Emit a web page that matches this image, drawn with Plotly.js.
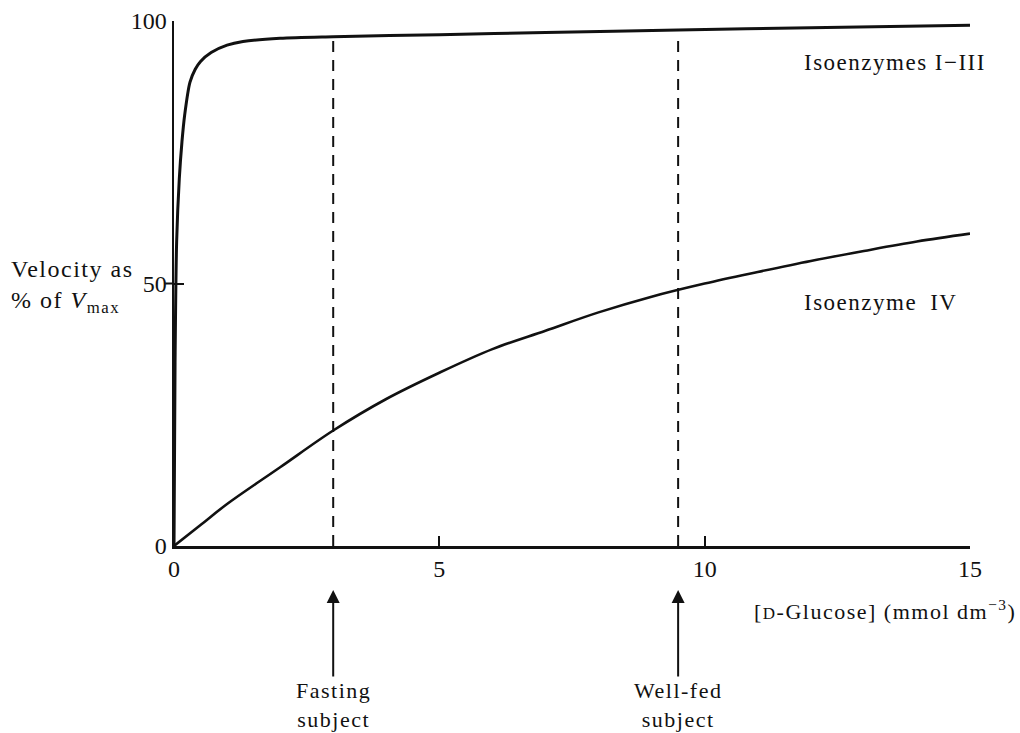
<!DOCTYPE html>
<html>
<head>
<meta charset="utf-8">
<script src="https://cdn.plot.ly/plotly-3.0.1.min.js"></script>
<style>
  html, body { margin: 0; padding: 0; background: #fff; }
  .annotation-text { letter-spacing: 1.5px; }
</style>
</head>
<body>
<div id="chart" style="width:1020px;height:733px;"></div>
<script>
// Isoenzymes I-III (low Km hexokinases)
var glucoseLowKm = [0, 0.02, 0.05, 0.1, 0.15, 0.2, 0.3, 0.4, 0.5, 0.7, 1.0, 1.3, 2, 3, 5, 7, 9.5, 12, 15];
var velocityLowKm = [0, 35, 58, 70, 77, 82, 88.3, 90.8, 92.3, 94, 95.4, 96.1, 96.7, 97, 97.4, 97.8, 98.3, 98.7, 99.2];

// Isoenzyme IV (glucokinase)
var glucoseIV = [0, 0.5, 1, 2, 3, 4, 5, 6, 7, 8, 9, 10, 11, 12, 13, 14, 15];
var velocityIV = [0, 4, 8, 15, 22, 28, 33, 37.5, 41, 44.5, 47.5, 50, 52.2, 54.3, 56.2, 58, 59.5];

// Physiological glucose concentrations
var markerGlucose = [3, 9.5];
var markerTop = [96.3, 97.4];
var markerLabels = ["Fasting<br>subject", "Well-fed<br>subject"];

// Tick labels
var xTicks = [0, 5, 10, 15];
var yTicks = [0, 50, 100];

var serif = "Liberation Serif, Times New Roman, serif";
var ink = "#111";

var traces = [
  {x: glucoseLowKm, y: velocityLowKm, mode: "lines", line: {color: ink, width: 3, shape: "spline", smoothing: 0.8}, cliponaxis: false, hoverinfo: "skip"},
  {x: glucoseIV, y: velocityIV, mode: "lines", line: {color: ink, width: 2.6, shape: "spline"}, cliponaxis: false, hoverinfo: "skip"}
];
markerGlucose.forEach(function (g, i) {
  traces.push({x: [g, g], y: [0, markerTop[i]], mode: "lines",
    line: {color: ink, width: 2, dash: "11px,8px"}, cliponaxis: false, hoverinfo: "skip"});
});

// y positions below the axis are given in paper units (plot height = 100 % of y range)
var annotations = [
  {xref: "paper", x: -0.207, xanchor: "left", yref: "paper", y: 0.495, yanchor: "middle", align: "left",
   text: "Velocity as<br>% of <i>V</i><sub>max</sub>", showarrow: false, font: {family: serif, size: 24, color: ink}},
  {xref: "x", x: 10.9, xanchor: "left", yref: "paper", y: -0.122, yanchor: "middle",
   text: "[<span style='font-size:17px'>D</span>-Glucose] (mmol dm<sup>−3</sup>)", showarrow: false, font: {family: serif, size: 22, color: ink}},
  {xref: "x", x: 11.83, xanchor: "left", yref: "paper", y: 0.92, yanchor: "middle", text: "Isoenzymes I−III", showarrow: false, font: {family: serif, size: 23, color: ink}},
  {xref: "x", x: 11.83, xanchor: "left", yref: "paper", y: 0.463, yanchor: "middle", text: "Isoenzyme\u2002IV", showarrow: false, font: {family: serif, size: 23, color: ink}}
];
markerGlucose.forEach(function (g, i) {
  annotations.push({xref: "x", x: g, yref: "paper", y: -0.084, ax: 0, ay: 115, text: markerLabels[i],
    showarrow: true, arrowhead: 2, arrowsize: 1.3, arrowwidth: 2, arrowcolor: ink,
    font: {family: serif, size: 22, color: ink}});
});

var layout = {
  width: 1020, height: 733,
  margin: {l: 174, r: 50, t: 21, b: 187},
  paper_bgcolor: "#fff", plot_bgcolor: "#fff",
  showlegend: false,
  font: {family: serif, size: 24, color: ink},
  xaxis: {range: [0, 15], showline: true, linewidth: 2.5, linecolor: ink, showgrid: false, zeroline: false,
    ticks: "inside", ticklen: 10, tickwidth: 2, tickcolor: ink, tickvals: xTicks, ticktext: xTicks.map(String),
    tickfont: {family: serif, size: 24, color: ink}, fixedrange: true},
  yaxis: {range: [0, 100], showline: true, linewidth: 2.5, linecolor: ink, showgrid: false, zeroline: false,
    ticks: "inside", ticklen: 10, tickwidth: 2, tickcolor: ink, tickvals: yTicks, ticktext: yTicks.map(String),
    tickfont: {family: serif, size: 24, color: ink}, fixedrange: true},
  shapes: [
    {type: "line", xref: "paper", x0: -0.011, x1: 0, yref: "y", y0: 50, y1: 50, line: {color: ink, width: 2}}
  ],
  annotations: annotations
};

Plotly.newPlot("chart", traces, layout, {displayModeBar: false, staticPlot: true});
</script>
</body>
</html>
